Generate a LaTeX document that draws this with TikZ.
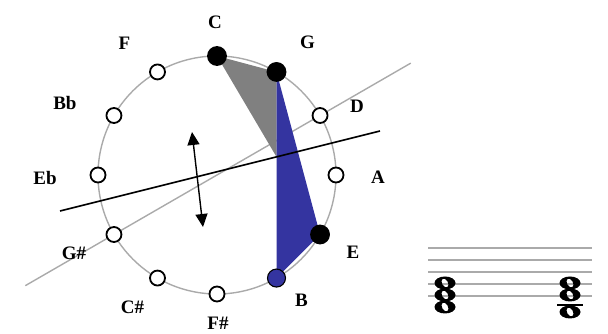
\documentclass[tikz,border=0pt]{standalone}
\usepackage{fontspec}
\setmainfont{Liberation Serif}
\usetikzlibrary{calc,arrows.meta,backgrounds}
\definecolor{chordblue}{RGB}{52,52,160}
\definecolor{wheelgray}{RGB}{170,170,170}

\begin{document}
\begin{tikzpicture}[x=1pt,y=1pt,
  pc/.style={circle,draw,line width=1.8pt,fill=white,minimum size=15pt,inner sep=0pt},
  on/.style={pc,fill=black,minimum size=18pt},
  blu/.style={pc,fill=chordblue,line width=1.1pt,minimum size=18pt},
  lbl/.style={font=\bfseries\fontsize{19}{19}\selectfont,inner sep=0pt},
  staffline/.style={draw=wheelgray,line width=1.4pt},
  wnote/.pic={\fill[even odd rule] (0,0) ellipse [x radius=10.5,y radius=6.5] (0,0) ellipse [x radius=3,y radius=4.8,rotate=30];}]
\useasboundingbox (0,0) rectangle (608,334);
\coordinate (o) at (217,159);
% twelve pitch classes round the circle of fifths
\foreach \n/\t/\k/\s/\lx/\ly in {C/C/0/on/-2/34, G/G/1/on/31/30, D/D/2/pc/37/9, A/A/3/pc/42/-2,
    E/E/4/on/33/-18, B/B/5/blu/25/-22, Fs/F\#/6/pc/1/-29, Cs/C\#/7/pc/-25/-29,
    Gs/G\#/8/pc/-40/-19, Eb/Eb/9/pc/-53/-3, Bb/Bb/10/pc/-49/12, F/F/11/pc/-33/29}{
  \node[\s] (\n) at ($(o)+({90-30*\k}:119)$) {};
  \node[lbl] (l\n) at ($(\n)+(\lx,\ly)$) {\t};
}
\coordinate (ax1) at (60,123);
\coordinate (ax2) at (380,203);
\coordinate (m) at (intersection of ax1--ax2 and G.center--B.center);
\coordinate (g1) at ($(Gs)!-0.43!(D)$);
\coordinate (g2) at ($(Gs)!1.44!(D)$);
\begin{scope}[on background layer]
  \draw[wheelgray,line width=1.4pt] (o) circle (119);
  \draw[wheelgray,line width=1.4pt] (g1) -- (g2);
  \fill[gray] (C.center) -- (G.center) -- (m) -- cycle;
  \fill[chordblue] (G.center) -- (E.center) -- (B.center) -- cycle;
\end{scope}
\draw[line width=1.6pt] (ax1) -- (ax2);
\coordinate (up) at (192,202);
\coordinate (dn) at (203,107);
\draw[{Triangle[length=13pt,width=12pt]}-{Triangle[length=13pt,width=12pt]},line width=1.4pt] (up) -- (dn);
% staff with the two chords
\foreach \i in {0,...,4}
  \draw[staffline] (428,{38+12*\i}) -- (592,{38+12*\i});
\foreach \y in {51,39,27}
  \pic at (445,\y) {wnote};
\foreach \y in {51,39}
  \pic at (570,\y) {wnote};
\draw[line width=1.3pt] (557,29) -- (583,29);
\pic at (570,22) {wnote};
\end{tikzpicture}
\end{document}
